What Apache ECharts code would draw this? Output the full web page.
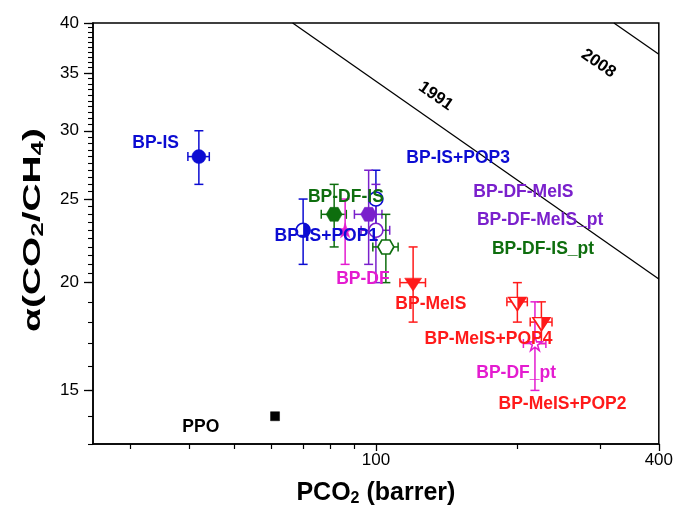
<!DOCTYPE html>
<html><head><meta charset="utf-8">
<script src="https://cdn.jsdelivr.net/npm/echarts@6/dist/echarts.min.js"></script>
<style>html,body{margin:0;padding:0;background:#fff}#c{width:676px;height:517px}</style>
</head><body><div id="c"></div>
<script>
// ---- data ----
const names = ['BP-IS','BP-IS+POP1','BP-IS+POP3','BP-DF-IS','BP-DF','BP-DF-MeIS','BP-DF-MeIS_pt','BP-DF-IS_pt','BP-MeIS','BP-MeIS+POP4','BP-MeIS+POP2','BP-DF_pt','PPO'];
const pco2     = [42, 70, 100, 81.5, 86, 96.5, 100, 105, 120, 200, 225, 218, 61];
const alpha    = [28, 23, 25, 24, 23, 24, 23, 22, 20, 19, 18, 17, 14];
const pco2Err  = [2.2, 0, 0, 5, 0, 6.5, 7, 6.5, 7.5, 10, 12, 12, 0];
const alphaErr = [2, 2, 2, 2, 2, 3, 3, 2, 2, 1, 1, 2, 0];
const bound1991X = [66.5, 400];
const bound1991Y = [40, 20.2];
const bound2008X = [321, 400];
const bound2008Y = [40, 36.8];
const boundNames = ['1991', '2008'];
const boundLabelX = [134, 297.5];
const boundLabelY = [32.9, 35.9];
const xTickLabels = [100, 400];
const xMinorTicks = [30, 40, 50, 60, 70, 80, 90, 200, 300];
const yTickLabels = [15, 20, 25, 30, 35, 40];
const yMinorTicks = [];
for (let v = 13; v < 20; v += 1) yMinorTicks.push(v);
for (let v = 20; v <= 40; v += 0.5) yMinorTicks.push(v);

// ---- styles ----
const FONT = 'Liberation Sans, Arial, Helvetica, sans-serif';
const BLUE = '#0c0cd2', GREEN = '#0e6e0e', PURPLE = '#7a20cc', MAG = '#e41cd0', RED = '#ff1a1a', BLACK = '#000';
const HEX = 'path://M-10,0L-5,-8.66L5,-8.66L10,0L5,8.66L-5,8.66Z';
const STAR = 'path://M0,-1L0.2245,-0.309L0.951,-0.309L0.363,0.118L0.588,0.809L0,0.382L-0.588,0.809L-0.363,0.118L-0.951,-0.309L-0.2245,-0.309Z';
const TRI = 'path://M-10,-7.5L10,-7.5L0,7.5Z';
const HALF_CIRC = 'path://M0,-10A10,10 0 0,1 0,10Z';
const HALF_TRI = 'path://M0,-7.5L10,-7.5L0,7.5Z';
const st = {
  'BP-IS':         {c: BLUE,   sym: 'circle', size: 14, open: false, lab: [-43, -13]},
  'BP-IS+POP1':    {c: BLUE,   sym: 'circle', size: 14, open: true, half: 'circ', lab: [24, 7]},
  'BP-IS+POP3':    {c: BLUE,   sym: 'circle', size: 14, open: true, lab: [83, -40]},
  'BP-DF-IS':      {c: GREEN,  sym: HEX, size: [16, 14], open: false, lab: [12, -17]},
  'BP-DF':         {c: MAG,    sym: STAR, size: 15, open: false, lab: [18, 49]},
  'BP-DF-MeIS':    {c: PURPLE, sym: HEX, size: [16, 14], open: false, lab: [155, -22]},
  'BP-DF-MeIS_pt': {c: PURPLE, sym: 'circle', size: 14, open: true, lab: [165, -9]},
  'BP-DF-IS_pt':   {c: GREEN,  sym: HEX, size: [16, 14], open: true, lab: [158, 3]},
  'BP-MeIS':       {c: RED,    sym: TRI, size: [17, 13], off: [0, 2], open: false, lab: [18, 20]},
  'BP-MeIS+POP4':  {c: RED,    sym: TRI, size: [17, 13], off: [0, 2], open: true, half: 'tri', lab: [-28, 36]},
  'BP-MeIS+POP2':  {c: RED,    sym: TRI, size: [17, 13], off: [0, 2], open: true, half: 'tri', lab: [22, 81]},
  'BP-DF_pt':      {c: MAG,    sym: STAR, size: 14, open: true, lab: [-18, 30]},
  'PPO':           {c: BLACK,  sym: 'rect', size: 9, open: false, lab: [-74, 11]}
};

const series = [];
// error bars
series.push({
  type: 'custom', name: 'err', z: 2, clip: false, silent: true,
  encode: {x: 0, y: 1},
  data: pco2.map((v, i) => [v, alpha[i], pco2Err[i], alphaErr[i]]),
  renderItem: function (params, api) {
    const i = params.dataIndex;
    const x = api.value(0), y = api.value(1), xe = api.value(2), ye = api.value(3);
    const c = api.coord([x, y]);
    const col = st[names[i]].c;
    const cap = 4.5;
    const ls = {stroke: col, lineWidth: 1.5};
    const ch = [];
    const L = (x1, y1, x2, y2) => ({type: 'line', shape: {x1, y1, x2, y2}, style: ls});
    if (ye > 0) {
      const t = api.coord([x, y + ye]), b = api.coord([x, y - ye]);
      ch.push(L(c[0], t[1], c[0], b[1]), L(c[0] - cap, t[1], c[0] + cap, t[1]), L(c[0] - cap, b[1], c[0] + cap, b[1]));
    }
    if (xe > 0) {
      const l = api.coord([x - xe, y]), r = api.coord([x + xe, y]);
      ch.push(L(l[0], c[1], r[0], c[1]), L(l[0], c[1] - cap, l[0], c[1] + cap), L(r[0], c[1] - cap, r[0], c[1] + cap));
    }
    return {type: 'group', children: ch};
  }
});
// markers + labels
names.forEach((n, i) => {
  const s = st[n];
  const off = s.off || [0, 0];
  const sz = Array.isArray(s.size) ? s.size : [s.size, s.size];
  series.push({
    type: 'scatter', name: n, z: 3,
    symbol: s.sym, symbolSize: s.size, symbolOffset: off,
    itemStyle: s.open ? {color: '#fff', borderColor: s.c, borderWidth: 1.6, opacity: 1} : {color: s.c, borderColor: s.c, borderWidth: 0.5, opacity: 1},
    label: {show: true, position: [sz[0] / 2 + s.lab[0], sz[1] / 2 + s.lab[1]], align: 'center', verticalAlign: 'middle',
            formatter: n, color: s.c, opacity: 1,
            fontSize: 17.5, fontWeight: 'bold', fontFamily: FONT},
    emphasis: {disabled: true},
    data: [[pco2[i], alpha[i]]]
  });
  if (s.half) {
    const w = s.half === 'circ' ? 7 : 8.5;
    const h = s.half === 'circ' ? 14 : 13;
    series.push({
      type: 'scatter', name: n + '_half', z: 4, silent: true,
      symbol: s.half === 'circ' ? HALF_CIRC : HALF_TRI,
      symbolSize: [w, h], symbolOffset: [off[0] + w / 2, off[1]],
      itemStyle: {color: s.c, opacity: 1},
      emphasis: {disabled: true},
      data: [[pco2[i], alpha[i]]]
    });
  }
});
// Robeson bounds
[[bound1991X, bound1991Y], [bound2008X, bound2008Y]].forEach((b, k) => {
  series.push({
    type: 'line', name: 'Robeson ' + boundNames[k], z: 1, silent: true, symbol: 'none',
    lineStyle: {color: '#000', width: 1.3},
    data: b[0].map((v, j) => [v, b[1][j]])
  });
  series.push({
    type: 'scatter', name: boundNames[k] + ' label', z: 5, silent: true, symbolSize: 1,
    itemStyle: {opacity: 0},
    label: {show: true, position: 'inside', formatter: boundNames[k], rotate: -34.6, opacity: 1,
            fontSize: 17, fontWeight: 'bold', fontFamily: FONT, color: '#000'},
    emphasis: {disabled: true},
    data: [[boundLabelX[k], boundLabelY[k]]]
  });
});

const rich = {
  m: {fontSize: 25, fontWeight: 'bold', fontFamily: FONT, color: '#000', lineHeight: 28},
  s: {fontSize: 16, fontWeight: 'bold', fontFamily: FONT, color: '#000', lineHeight: 10, verticalAlign: 'bottom'}
};
const richY = {
  m: {fontSize: 24, fontWeight: 'bold', fontFamily: FONT, color: '#000', lineHeight: 28},
  s: {fontSize: 16, fontWeight: 'bold', fontFamily: FONT, color: '#000', lineHeight: 10, verticalAlign: 'bottom'}
};

const axisCommon = {
  type: 'log', logBase: 10, gridIndex: 0,
  splitLine: {show: false}, minorTick: {show: false}
};

const option = {
  animation: false,
  backgroundColor: '#fff',
  grid: {left: 93, top: 23, width: 568, height: 421, show: true, borderColor: '#000', borderWidth: 1.5, backgroundColor: 'transparent'},
  xAxis: [
    Object.assign({}, axisCommon, {
      min: 25, max: 400, position: 'bottom',
      axisLine: {show: true, lineStyle: {color: '#000', width: 1.5}},
      axisTick: {show: true, customValues: xTickLabels, length: 7, lineStyle: {color: '#000', width: 1.3}},
      axisLabel: {show: true, customValues: xTickLabels, formatter: v => String(Math.round(v)), fontSize: 17, color: '#000', fontFamily: FONT, margin: 8, showMaxLabel: true},
      name: '{m|PCO}{s|2}{m| (barrer)}', nameLocation: 'middle', nameGap: 35,
      nameTextStyle: {rich: rich}
    }),
    Object.assign({}, axisCommon, {
      min: 25, max: 400, position: 'bottom',
      axisLine: {show: false},
      axisTick: {show: true, customValues: xMinorTicks, length: 5, lineStyle: {color: '#000', width: 1.2}},
      axisLabel: {show: false}
    })
  ],
  yAxis: [
    Object.assign({}, axisCommon, {
      min: 13, max: 40, position: 'left',
      axisLine: {show: true, lineStyle: {color: '#000', width: 1.5}},
      axisTick: {show: true, customValues: yTickLabels, length: 9, lineStyle: {color: '#000', width: 1.3}},
      axisLabel: {show: true, customValues: yTickLabels, formatter: v => String(Math.round(v)), fontSize: 17, color: '#000', fontFamily: FONT, margin: 14}
    }),
    Object.assign({}, axisCommon, {
      min: 13, max: 40, position: 'left',
      axisLine: {show: false},
      axisTick: {show: true, customValues: yMinorTicks, length: 5, lineStyle: {color: '#000', width: 1.1}},
      axisLabel: {show: false}
    })
  ],
  graphic: [{
    type: 'text', x: 33, y: 230, rotation: Math.PI / 2, scaleX: 1.62,
    style: {text: '{m|α(CO}{s|2}{m|/CH}{s|4}{m|)}', rich: richY, align: 'center', verticalAlign: 'middle'}
  }],
  series: series
};
const chart = echarts.init(document.getElementById('c'), null, {renderer: 'canvas'});
chart.setOption(option);
</script></body></html>
